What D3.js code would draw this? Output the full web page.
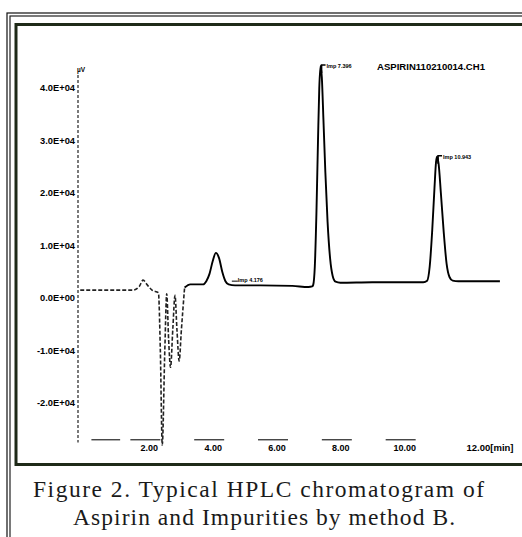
<!DOCTYPE html>
<html>
<head>
<meta charset="utf-8">
<script src="https://cdn.jsdelivr.net/npm/d3@7"></script>
<style>
  html, body { margin: 0; padding: 0; background: #fff; }
  svg { display: block; }
</style>
</head>
<body>
<svg id="chart" width="522" height="537"></svg>
<script>
// ---- data ----
const times  = [-0.15, 1.5, 1.7, 1.82, 1.95, 2.1, 2.3, 2.36, 2.42, 2.5, 2.56, 2.62, 2.68, 2.75, 2.82, 2.88, 2.95, 3.02, 3.12,
                3.3, 3.7, 3.8, 3.9, 4.0, 4.1, 4.2, 4.3, 4.4, 4.5, 4.7, 5.5, 6.5, 7.0, 7.12,
                7.15, 7.2, 7.25, 7.3, 7.34, 7.38, 7.42, 7.47, 7.53, 7.6, 7.68, 7.76, 7.85, 8.0, 9.0, 10.3,
                10.6, 10.72, 10.8, 10.88, 10.95, 11.0, 11.03, 11.08, 11.15, 11.24, 11.33, 11.42, 11.52, 11.7, 12.5, 13.0];
const values = [1500, 1500, 2200, 3400, 2500, 1500, 1000, -10000, -28000, -10000, 800, -8000, -13200, -6000, 500, -6000, -12000, -6000, 2000,
                2600, 2600, 3200, 4600, 7000, 8600, 7600, 5000, 3200, 2600, 2400, 2400, 2300, 2100, 2200,
                2500, 6000, 16000, 30000, 40000, 44200, 42000, 34000, 24000, 14500, 7500, 4200, 3100, 2900, 3000, 3000,
                3000, 3300, 6000, 13000, 21000, 26000, 26900, 25500, 20000, 12500, 6500, 4000, 3300, 3200, 3200, 3200];
const dashedUntil = 3.12;   // the early part of the trace is printed faintly/dashed

const yTickValues = [40000, 30000, 20000, 10000, 0, -10000, -20000];
const yTickLabels = ["4.0E+04", "3.0E+04", "2.0E+04", "1.0E+04", "0.0E+00", "-1.0E+04", "-2.0E+04"];
const xTickValues = [2, 4, 6, 8, 10, 12];
const xTickLabels = ["2.00", "4.00", "6.00", "8.00", "10.00", "12.00[min]"];

const peakTimes  = [4.1, 7.38, 11.03];
const peakLabels = ["Imp 4.176", "Imp 7.396", "Imp 10.943"];
const fileLabel  = "ASPIRIN110210014.CH1";
const yUnit      = "\u00B5V";
const captionLines = ["Figure 2. Typical HPLC chromatogram of", "Aspirin and Impurities by method B."];

// ---- layout ----
const svg = d3.select("#chart");
const x = d3.scaleLinear().domain([-0.22, 12]).range([78, 468]);
const y = d3.scaleLinear().domain([-28000, 45000]).range([445, 61.75]);
const yOf = t => {
  const i = times.indexOf(t);
  return i >= 0 ? values[i] : 0;
};

// frames
const frame = svg.append("g");
frame.append("rect").attr("x", 7).attr("y", 13).attr("width", 530).attr("height", 540)
  .attr("fill", "none").attr("stroke", "#111").attr("stroke-width", 1.2);
frame.append("rect").attr("x", 10).attr("y", 16).attr("width", 530).attr("height", 540)
  .attr("fill", "none").attr("stroke", "#222").attr("stroke-width", 1.2);
frame.append("rect").attr("x", 16).attr("y", 24.5).attr("width", 520).attr("height", 440)
  .attr("fill", "none").attr("stroke", "#1f2a18").attr("stroke-width", 3);

const font = "'Liberation Sans', Arial, sans-serif";

// y axis (dotted printed line)
const yAxis = d3.axisLeft(y).tickValues(yTickValues).tickFormat((d, i) => yTickLabels[i]).tickSize(0).tickPadding(3);
const gy = svg.append("g").attr("transform", `translate(${x(-0.22)},0)`).call(yAxis);
gy.select(".domain").remove();
gy.append("line").attr("x1", 0).attr("x2", 0).attr("y1", y(42500)).attr("y2", y(-27500))
  .attr("stroke", "#333").attr("stroke-width", 1.3).attr("stroke-dasharray", "3,2");
gy.selectAll(".tick text").attr("font-family", font).attr("font-weight", "bold")
  .attr("font-size", 9.3).attr("fill", "#000");

svg.append("text").attr("x", x(-0.22) - 1).attr("y", y(43000)).attr("font-family", font)
  .attr("font-weight", "bold").attr("font-size", 6.5).text(yUnit);

// x axis: broken printed dashes with labels
const xAxis = d3.axisBottom(x).tickValues(xTickValues).tickFormat((d, i) => xTickLabels[i]).tickSize(0).tickPadding(5);
const gx = svg.append("g").attr("transform", `translate(0,${y(-27000)})`).call(xAxis);
gx.select(".domain").remove();
gx.selectAll(".tick").filter(d => d < 12).append("line")
  .attr("x1", -19).attr("x2", 11).attr("y1", 0).attr("y2", 0)
  .attr("stroke", "#333").attr("stroke-width", 1.3);
gx.selectAll(".tick text").attr("font-family", font).attr("font-weight", "bold")
  .attr("font-size", 9).attr("fill", "#000");
gx.selectAll(".tick").filter(d => d === 12).select("text").attr("text-anchor", "start").attr("dx", -2)
  .attr("font-size", 9.5);
gx.append("line").attr("x1", x(0.2)).attr("x2", x(1.1)).attr("y1", 0).attr("y2", 0)
  .attr("stroke", "#333").attr("stroke-width", 1.3);

// trace
const pts = times.map((t, i) => [t, values[i]]);
const line = d3.line().x(d => x(d[0])).y(d => y(d[1])).curve(d3.curveMonotoneX);
svg.append("path").datum(pts.filter(d => d[0] <= dashedUntil)).attr("d", line)
  .attr("fill", "none").attr("stroke", "#222").attr("stroke-width", 1.6).attr("stroke-dasharray", "4,2");
svg.append("path").datum(pts.filter(d => d[0] >= dashedUntil)).attr("d", line)
  .attr("fill", "none").attr("stroke", "#000").attr("stroke-width", 1.9).attr("stroke-linejoin", "round");

// peak annotations
const ann = svg.append("g").attr("font-family", font).attr("font-weight", "bold").attr("font-size", 5.5);
{
  const t = peakTimes[0];
  const bx = x(t + 0.5), by = y(3400);
  ann.append("line").attr("x1", bx).attr("x2", bx + 6).attr("y1", by + 1).attr("y2", by + 1).attr("stroke", "#000").attr("stroke-width", 1);
  ann.append("text").attr("x", bx + 6).attr("y", by + 2).text(peakLabels[0]);
}
[1, 2].forEach(k => {
  const t = peakTimes[k];
  const px = x(t) + 1, py = y(yOf(t)) - 1;
  ann.append("path").attr("d", `M${px},${py + 8}V${py}H${px + 4}`).attr("fill", "none")
    .attr("stroke", "#000").attr("stroke-width", 1.6);
  ann.append("text").attr("x", px + 5).attr("y", py + 3).text(peakLabels[k]);
});

svg.append("text").attr("x", 377).attr("y", 70).attr("font-family", font).attr("font-weight", "bold")
  .attr("font-size", 8.5).attr("textLength", 108).attr("lengthAdjust", "spacingAndGlyphs").text(fileLabel);

// caption
const cap = svg.append("g").attr("font-family", "'Liberation Serif', 'DejaVu Serif', serif")
  .attr("font-size", 23.5).attr("fill", "#1a1a1a");
cap.append("text").attr("x", 33).attr("y", 497).attr("textLength", 451).attr("lengthAdjust", "spacing").text(captionLines[0]);
cap.append("text").attr("x", 73).attr("y", 525).attr("textLength", 382).attr("lengthAdjust", "spacing").text(captionLines[1]);
</script>
</body>
</html>
